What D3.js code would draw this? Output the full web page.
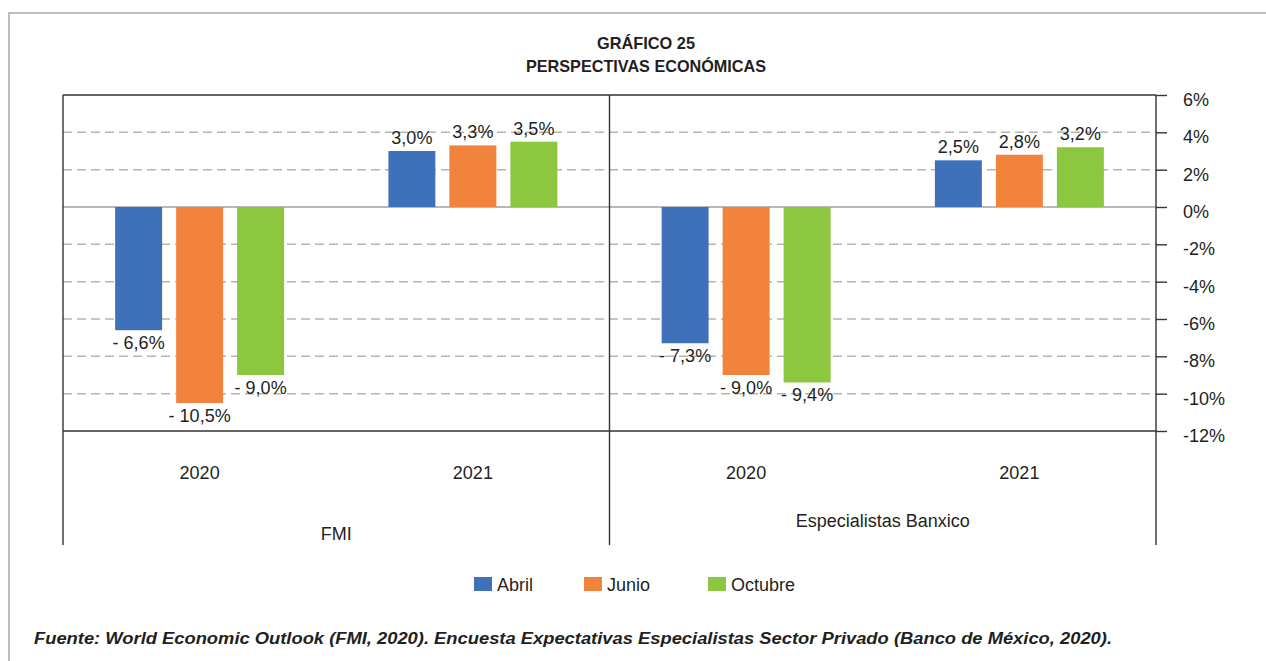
<!DOCTYPE html>
<html>
<head>
<meta charset="utf-8">
<script src="https://cdn.jsdelivr.net/npm/d3@7"></script>
<style>
  body { margin: 0; background: #fff; }
  svg { display: block; font-family: "Liberation Sans", Arial, Helvetica, sans-serif; }
</style>
</head>
<body>
<svg width="1266" height="661"></svg>
<script>
// --- Datos ---
const grupos = ['FMI', 'Especialistas Banxico'];
const anios = ['2020', '2021'];
const series = ['Abril', 'Junio', 'Octubre'];
// orden: FMI 2020, FMI 2021, Banxico 2020, Banxico 2021
const abril = [-6.6, 3.0, -7.3, 2.5];
const junio = [-10.5, 3.3, -9.0, 2.8];
const octubre = [-9.0, 3.5, -9.4, 3.2];
const yTicks = [6, 4, 2, 0, -2, -4, -6, -8, -10, -12];
const titulo = ['GRÁFICO 25', 'PERSPECTIVAS ECONÓMICAS'];
const fuente = 'Fuente: World Economic Outlook (FMI, 2020). Encuesta Expectativas Especialistas Sector Privado (Banco de México, 2020).';

const categorias = [];
grupos.forEach(g => anios.forEach(a => categorias.push({ grupo: g, anio: a, key: g + '|' + a })));
const valores = { Abril: abril, Junio: junio, Octubre: octubre };

const svg = d3.select('svg');
const m = { left: 63, right: 1156, top: 95, bottom: 431, base: 545 };

// --- Escalas ---
const x0 = d3.scaleBand().domain(categorias.map(d => d.key)).range([m.left, m.right]);
const xg = d3.scaleBand().domain(grupos).range([m.left, m.right]);
const x1 = d3.scaleBand().domain(series).range([-91.5, 91.5]).paddingInner(0.23).paddingOuter(0.115);
const y = d3.scaleLinear().domain([-12, 6]).range([m.bottom, m.top]);
const color = d3.scaleOrdinal().domain(series).range(['#3e71b9', '#f2833c', '#8dc63f']);

const loc = d3.formatLocale({ decimal: ',', thousands: '.', grouping: [3], currency: ['$', ''] });
const f1 = loc.format('.1f');
const etiqueta = v => (v < 0 ? '- ' : '') + f1(Math.abs(v)) + '%';

// --- Marco exterior ---
svg.append('path')
  .attr('d', 'M9,661 V13 H1266')
  .attr('fill', 'none').attr('stroke', '#a8a8a8').attr('stroke-width', 1.5);

// --- Rejilla ---
svg.append('g')
  .selectAll('line')
  .data(yTicks.filter(t => t !== 6 && t !== -12))
  .join('line')
    .attr('x1', m.left).attr('x2', m.right)
    .attr('y1', d => y(d)).attr('y2', d => y(d))
    .attr('stroke', d => d === 0 ? '#a0a0a0' : '#b4b4b4')
    .attr('stroke-width', 1.5)
    .attr('stroke-dasharray', d => d === 0 ? null : '9,5');

// --- Barras ---
const bars = svg.append('g')
  .selectAll('g')
  .data(categorias)
  .join('g')
    .attr('transform', d => `translate(${x0(d.key) + x0.bandwidth() / 2},0)`);

const items = bars.selectAll('g')
  .data((d, i) => series.map(s => ({ s, v: valores[s][i] })))
  .join('g');

items.append('rect')
  .attr('x', d => x1(d.s))
  .attr('width', x1.bandwidth())
  .attr('y', d => y(Math.max(0, d.v)))
  .attr('height', d => Math.abs(y(d.v) - y(0)))
  .attr('fill', d => color(d.s));

items.append('text')
  .attr('x', d => x1(d.s) + x1.bandwidth() / 2)
  .attr('y', d => d.v >= 0 ? y(d.v) - 7 : y(d.v) + 19)
  .attr('text-anchor', 'middle')
  .attr('font-size', 18)
  .attr('fill', '#231f20')
  .text(d => etiqueta(d.v));

// --- Marco del gráfico ---
const marco = svg.append('g').attr('stroke', '#333').attr('stroke-width', 1.4);
[m.top, m.bottom].forEach(yy => marco.append('line').attr('x1', m.left).attr('x2', m.right).attr('y1', yy).attr('y2', yy));
[m.left, xg('Especialistas Banxico'), m.right].forEach(xx =>
  marco.append('line').attr('x1', xx).attr('x2', xx).attr('y1', m.top).attr('y2', m.base));

// --- Eje Y derecho ---
const eje = svg.append('g')
  .attr('transform', `translate(${m.right},0)`)
  .call(d3.axisRight(y).tickValues(yTicks).tickSize(11).tickPadding(16).tickFormat(d => d + '%'));
eje.select('.domain').remove();
eje.selectAll('.tick line').attr('stroke', '#333').attr('stroke-width', 1.4);
eje.selectAll('.tick text')
  .attr('font-size', 18).attr('font-family', null)
  .attr('fill', '#231f20').attr('dy', 10.5);
eje.attr('font-family', null).attr('font-size', null);

// --- Etiquetas de categoría ---
svg.append('g')
  .selectAll('text')
  .data(categorias)
  .join('text')
    .attr('x', d => x0(d.key) + x0.bandwidth() / 2)
    .attr('y', 479)
    .attr('text-anchor', 'middle')
    .attr('font-size', 18)
    .attr('fill', '#231f20')
    .text(d => d.anio);

svg.append('g')
  .selectAll('text')
  .data(grupos)
  .join('text')
    .attr('x', d => xg(d) + xg.bandwidth() / 2)
    .attr('y', (d, i) => i === 0 ? 540 : 527)
    .attr('text-anchor', 'middle')
    .attr('font-size', 18)
    .attr('fill', '#231f20')
    .text(d => d);

// --- Título ---
const anchoTitulo = [98, 240];
svg.append('g')
  .selectAll('text')
  .data(titulo)
  .join('text')
    .attr('x', 646)
    .attr('y', (d, i) => 49 + i * 23)
    .attr('text-anchor', 'middle')
    .attr('font-size', 17)
    .attr('font-weight', 'bold')
    .attr('fill', '#231f20')
    .attr('textLength', (d, i) => anchoTitulo[i])
    .attr('lengthAdjust', 'spacingAndGlyphs')
    .text(d => d);

// --- Leyenda ---
const legX = [474, 584, 708];
const legend = svg.append('g')
  .selectAll('g')
  .data(series)
  .join('g')
    .attr('transform', (d, i) => `translate(${legX[i]},577)`);
legend.append('rect').attr('width', 18).attr('height', 14).attr('fill', color);
legend.append('text')
  .attr('x', 23).attr('y', 14)
  .attr('font-size', 18).attr('fill', '#231f20')
  .text(d => d);

// --- Fuente ---
svg.append('text')
  .attr('x', 34).attr('y', 644)
  .attr('font-size', 16)
  .attr('font-weight', 'bold')
  .attr('font-style', 'italic')
  .attr('fill', '#231f20')
  .attr('textLength', 1078)
  .attr('lengthAdjust', 'spacingAndGlyphs')
  .text(fuente);
</script>
</body>
</html>
